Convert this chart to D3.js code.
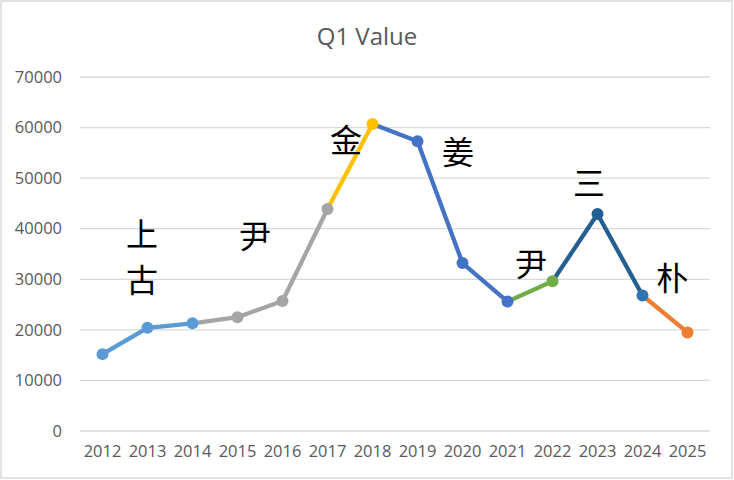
<!DOCTYPE html>
<html><head><meta charset="utf-8">
<script src="https://cdn.jsdelivr.net/npm/d3@7"></script>
<style>html,body{margin:0;padding:0;background:#fff;}</style>
</head><body>
<script>
const categories = ["2012","2013","2014","2015","2016","2017","2018","2019","2020","2021","2022","2023","2024","2025"];
const values = [15200,20400,21300,22500,25700,43900,60700,57300,33200,25600,29600,42900,26800,19500];
// colour of the segment leaving each point (last unused)
const segmentColors = ["#5B9BD5","#5B9BD5","#A5A5A5","#A5A5A5","#A5A5A5","#FFC000","#4472C4","#4472C4","#4472C4","#70AD47","#255E91","#255E91","#ED7D31"];
const pointColors = ["#5B9BD5","#5B9BD5","#5B9BD5","#A5A5A5","#A5A5A5","#A5A5A5","#FFC000","#4472C4","#4472C4","#4472C4","#70AD47","#255E91","#2E75B6","#ED7D31"];
const yTicks = [0,10000,20000,30000,40000,50000,60000,70000];
const labelTexts = ["上","古","尹","金","姜","尹","三","朴"];
const labelIdx = [0.88,0.88,3.39,5.41,7.9,9.52,10.81,12.66];
const labelVals = [39350,30250,38950,57930,55560,33410,49430,30640];
const title = "Q1 Value";

const W = 734, H = 480;
const m = {left:80, right:24, top:77, bottom:49};
const svg = d3.select("body").append("svg").attr("width",W).attr("height",H);
svg.append("rect").attr("x",1).attr("y",1).attr("width",W-3).attr("height",H-3)
  .attr("fill","#fff").attr("stroke","#d9d9d9").attr("stroke-width",1.5);

const x = d3.scaleBand().domain(categories).range([m.left, W-m.right]);
const y = d3.scaleLinear().domain([0,70000]).range([H-m.bottom, m.top]);
const cx = c => x(c) + x.bandwidth()/2;
const xi = d3.scaleLinear().domain([0, categories.length-1]).range([cx(categories[0]), cx(categories[categories.length-1])]);

// grid
svg.append("g").selectAll("line").data(yTicks).join("line")
  .attr("x1",m.left).attr("x2",W-m.right).attr("y1",d=>y(d)).attr("y2",d=>y(d))
  .attr("stroke","#d9d9d9").attr("stroke-width",1.3);

const font = "'Open Sans', 'Noto Sans', sans-serif";
// y axis
const ya = svg.append("g").attr("transform",`translate(${m.left-18},0)`)
  .call(d3.axisLeft(y).tickValues(yTicks).tickSize(0).tickPadding(0).tickFormat(d3.format("d")));
ya.select(".domain").remove();
ya.selectAll("text").attr("fill","#595959").style("font-family",font).style("font-size","16.5px");
// x axis
const xa = svg.append("g").attr("transform",`translate(0,${H-m.bottom+14})`)
  .call(d3.axisBottom(x).tickSize(0).tickPadding(0));
xa.select(".domain").remove();
xa.selectAll("text").attr("fill","#595959").style("font-family",font).style("font-size","16.5px");

// title
svg.append("text").attr("x",W/2).attr("y",45).attr("text-anchor","middle")
  .attr("fill","#595959").style("font-family",font).style("font-size","24px").text(title);

// segments
const segs = d3.range(values.length-1).map(i=>({i}));
svg.append("g").selectAll("line").data(segs).join("line")
  .attr("x1",d=>cx(categories[d.i])).attr("y1",d=>y(values[d.i]))
  .attr("x2",d=>cx(categories[d.i+1])).attr("y2",d=>y(values[d.i+1]))
  .attr("stroke",d=>segmentColors[d.i]).attr("stroke-width",4.3).attr("stroke-linecap","round");

// points
svg.append("g").selectAll("circle").data(values).join("circle")
  .attr("cx",(d,i)=>cx(categories[i])).attr("cy",d=>y(d)).attr("r",6)
  .attr("fill",(d,i)=>pointColors[i]);

// labels
svg.append("g").selectAll("text").data(labelTexts).join("text")
  .attr("x",(d,i)=>xi(labelIdx[i])).attr("y",(d,i)=>y(labelVals[i]))
  .attr("text-anchor","middle").attr("dominant-baseline","central")
  .style("font-family","'Noto Sans CJK SC', sans-serif").style("font-size","32px")
  .attr("fill","#000").text(d=>d);
</script>
</body></html>
